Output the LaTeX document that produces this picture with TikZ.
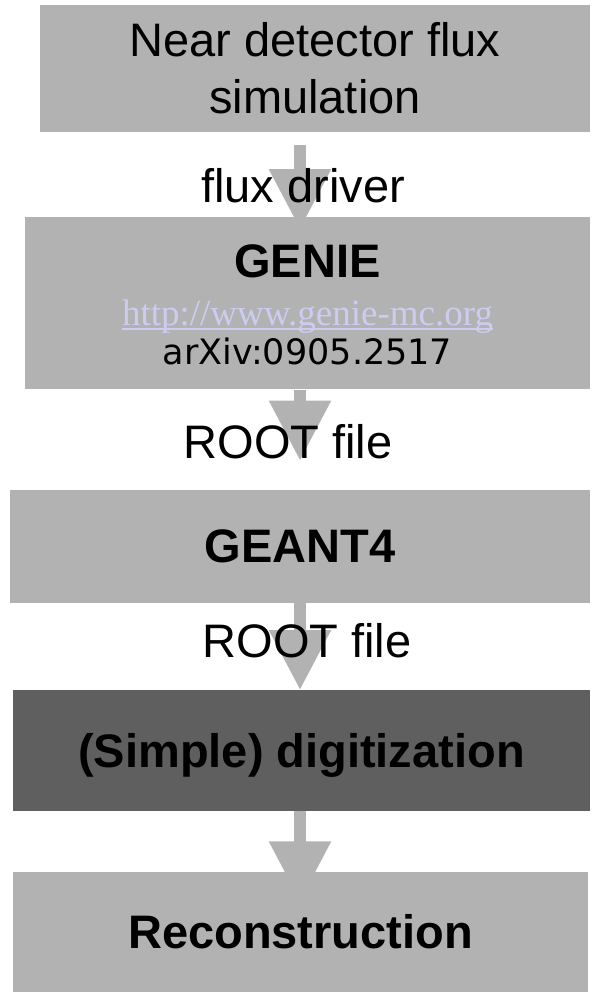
\documentclass[tikz,border=0pt]{standalone}
\usepackage{fontspec}
\setmainfont{Liberation Sans}
\newfontfamily\urlfont{Liberation Serif}
\newfontfamily\arxivfont{DejaVu Sans}
\usetikzlibrary{positioning,arrows.meta}
\definecolor{boxgray}{RGB}{178,178,178}
\definecolor{digigray}{RGB}{95,95,95}
\definecolor{linklilac}{RGB}{204,204,240}
\pgfdeclarelayer{background}
\pgfsetlayers{background,main}

\begin{document}
\begin{tikzpicture}[
  stage/.style={
    fill=boxgray,
    inner sep=0pt,
    align=center,
    font=\fontsize{47}{57}\selectfont
  },
  lbl/.style={
    anchor=base,
    inner sep=0pt,
    font=\fontsize{47}{57}\selectfont
  },
  arr/.style={draw=boxgray, line width=12pt, -{Triangle[length=60pt,width=59pt]}}
]
\useasboundingbox (0,0) rectangle (596pt,-994pt);
\coordinate (spine) at (300pt,0);

\node[stage, minimum width=550pt, minimum height=127pt] (near) at (315pt,-68.5pt) {Near detector flux\\simulation};
\node[stage, minimum width=565pt, minimum height=172pt, below=85pt of near, xshift=-7.5pt] (genie) {};
\node[stage, minimum width=580pt, minimum height=113pt, below=100pt of genie, xshift=-7.5pt] (geant) {\bfseries GEANT4};
\node[stage, fill=digigray, text depth=0pt, minimum width=577pt, minimum height=121pt, below=87pt of geant, xshift=1.5pt] (digi) {\bfseries (Simple) digitization};
\node[stage, minimum width=575pt, minimum height=120pt, below=60pt of digi, xshift=-1pt] (reco) {\bfseries Reconstruction};

% Text inside GENIE
\node[lbl, font=\fontsize{47}{57}\selectfont\bfseries] (genietitle) at ([yshift=-60pt]genie.north) {GENIE};
\node[lbl, font=\urlfont\fontsize{37}{44}\selectfont, text=linklilac] (genieurl) at ([yshift=-108pt]genie.north) {http://www.genie-mc.org};
\draw[linklilac, line width=1.5pt] ([yshift=-4pt]genieurl.base west) -- ([yshift=-4pt]genieurl.base east);
\node[lbl, font=\arxivfont\fontsize{35}{42}\selectfont] (geniearxiv) at ([yshift=-147pt]genie.north) {arXiv:0905.2517};

% Arrows
\begin{pgfonlayer}{background}
\draw[arr, shorten <=13pt, shorten >=-12pt] (near.south -| spine) -- (genie.north -| spine);
\draw[arr, shorten >=29pt] (genie.south -| spine) -- (geant.north -| spine);
\draw[arr] (geant.south -| spine) -- (digi.north -| spine);
\draw[arr, shorten >=-30pt] (digi.south -| spine) -- (reco.north -| spine);
\end{pgfonlayer}

% Labels on the arrows
\node[lbl] (fluxdrv) at ([xshift=3pt,yshift=-70pt]near.south -| spine) {flux driver};
\node[lbl] (rootone) at ([xshift=-12pt,yshift=-69pt]genie.south -| spine) {ROOT file};
\node[lbl] (roottwo) at ([xshift=7pt,yshift=-54pt]geant.south -| spine) {ROOT file};

\end{tikzpicture}
\end{document}
